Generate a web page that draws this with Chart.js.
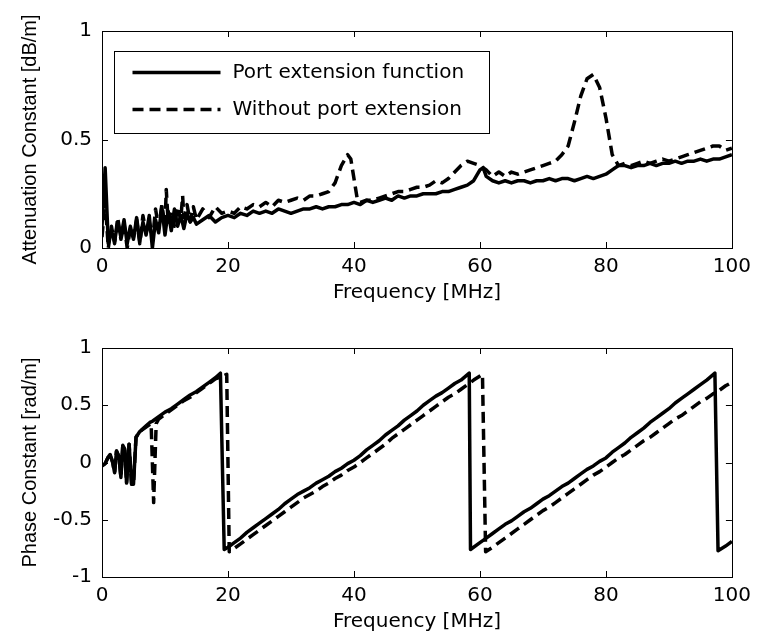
<!DOCTYPE html>
<html><head><meta charset="utf-8">
<script src="https://cdn.jsdelivr.net/npm/chart.js@4.4.1/dist/chart.umd.min.js"></script>
<style>
html,body{margin:0;padding:0;background:#fff;}
#wrap{position:relative;width:758px;height:644px;overflow:hidden;}
canvas{position:absolute;left:0;}
#c1{top:0}
#c2{top:305px}
</style></head><body>
<div id="wrap">
<canvas id="c1" width="758" height="305"></canvas>
<canvas id="c2" width="758" height="329"></canvas>
</div>
<script>
// ---------- DATA ----------
const seriesLabels = ['Port extension function', 'Without port extension'];
const xTickValues = [0, 20, 40, 60, 80, 100];

// Attenuation constant [dB/m] — solid series
const attFreqSolid = [
 0,0.5,1,1.5,2,2.5,3,3.5,4,4.5,
 5,5.5,6,6.5,7,7.5,8,8.5,9,9.5,
 10,10.5,11,11.5,12,12.5,13,13.5,14,14.5,
 15,16,17,18,19,20,21,22,23,24,
 25,26,27,28,29,30,31,32,33,34,
 35,36,37,38,39,40,41,42,43,44,
 45,46,47,48,49,50,51,52,53,54,
 55,56,57,58,59,60,60.5,61,62,63,
 64,65,66,67,68,69,70,71,72,73,
 74,75,76,77,78,79,80,81,82,83,
 84,85,86,87,88,89,90,91,92,93,
 94,95,96,97,98,99,100];
const attSolid = [
 0.10,0.37,0.02,0.08,0.03,0.12,0.05,0.13,0.02,0.10,
 0.04,0.14,0.03,0.12,0.06,0.15,0.00,0.13,0.07,0.19,
 0.06,0.17,0.08,0.18,0.10,0.15,0.09,0.16,0.12,0.14,
 0.11,0.13,0.15,0.12,0.14,0.15,0.14,0.16,0.15,0.17,
 0.16,0.17,0.16,0.18,0.17,0.16,0.17,0.18,0.18,0.19,
 0.18,0.19,0.19,0.20,0.20,0.21,0.20,0.22,0.21,0.22,
 0.23,0.22,0.24,0.23,0.24,0.24,0.25,0.25,0.25,0.26,
 0.26,0.27,0.28,0.29,0.31,0.36,0.37,0.33,0.31,0.30,
 0.31,0.30,0.31,0.31,0.30,0.31,0.31,0.32,0.31,0.32,
 0.32,0.31,0.32,0.33,0.32,0.33,0.34,0.36,0.38,0.38,
 0.37,0.38,0.38,0.39,0.38,0.39,0.39,0.40,0.39,0.40,
 0.40,0.41,0.40,0.41,0.41,0.42,0.43];

// Attenuation constant [dB/m] — dashed series
const attFreqDashed = [
 0,0.5,1,1.5,2,2.5,3,3.5,4,4.5,
 5,5.5,6,6.5,7,7.5,8,8.5,9,9.5,
 10,10.2,10.5,11,11.5,12,12.5,12.8,13,13.5,
 14,14.5,15,16,17,18,19,20,21,22,
 23,24,25,26,27,28,29,30,31,32,
 33,34,35,36,37,38,39,39.5,40,40.5,
 41,42,43,44,45,46,47,48,49,50,
 51,52,53,54,55,56,57,58,59,60,
 61,62,63,64,65,66,67,68,69,70,
 71,72,73,74,75,76,77,78,79,80,
 81,82,83,84,85,86,87,88,89,90,
 91,92,93,94,95,96,97,98,99,100];
const attDashed = [
 0.05,0.22,0.00,0.10,0.02,0.14,0.04,0.11,0.00,0.09,
 0.05,0.13,0.02,0.15,0.07,0.12,0.03,0.18,0.09,0.20,
 0.10,0.27,0.12,0.17,0.10,0.19,0.13,0.24,0.14,0.20,
 0.12,0.19,0.13,0.18,0.14,0.19,0.16,0.17,0.16,0.19,
 0.18,0.20,0.19,0.21,0.19,0.22,0.21,0.22,0.23,0.22,
 0.24,0.24,0.25,0.26,0.30,0.38,0.43,0.41,0.32,0.23,
 0.21,0.22,0.22,0.23,0.24,0.25,0.26,0.26,0.27,0.28,
 0.28,0.29,0.31,0.30,0.32,0.35,0.38,0.40,0.39,0.38,
 0.36,0.33,0.35,0.33,0.35,0.34,0.35,0.36,0.37,0.38,
 0.39,0.40,0.43,0.47,0.58,0.70,0.78,0.80,0.74,0.60,
 0.43,0.38,0.39,0.38,0.39,0.40,0.39,0.40,0.41,0.40,
 0.41,0.42,0.43,0.44,0.45,0.46,0.47,0.47,0.45,0.46];

// Phase constant [rad/m] — solid series
const phaseFreqSolid = [
 0,0.5,1,1.3,1.7,2,2.3,2.7,3,3.3,
 3.6,3.9,4.3,4.7,5,5.4,6,7,7.6,8,
 9,10,11,12,13,14,15,16,17,18,
 18.8,19.4,20,21,22,23,24,25,26,27,
 28,29,30,31,32,33,34,35,36,37,
 38,39,40,41,42,43,44,45,46,47,
 48,49,50,51,52,53,54,55,56,57,
 58.3,58.5,60,61,62,63,64,65,66,67,
 68,69,70,71,72,73,74,75,76,77,
 78,79,80,81,82,83,84,85,86,87,
 88,89,90,91,92,93,94,95,96,97.3,
 97.8,99,100];
const phaseSolid = [
 -0.03,-0.01,0.05,0.07,0.00,-0.09,0.10,0.05,-0.13,0.15,
 0.12,-0.18,0.16,-0.19,-0.19,0.22,0.27,0.32,0.35,0.36,
 0.40,0.44,0.47,0.51,0.55,0.59,0.62,0.66,0.70,0.74,
 0.78,-0.76,-0.74,-0.70,-0.66,-0.61,-0.57,-0.53,-0.49,-0.45,
 -0.41,-0.36,-0.32,-0.28,-0.25,-0.22,-0.18,-0.15,-0.12,-0.08,
 -0.05,-0.01,0.02,0.06,0.11,0.15,0.19,0.24,0.28,0.32,
 0.37,0.41,0.45,0.50,0.54,0.58,0.61,0.65,0.69,0.72,
 0.78,-0.76,-0.70,-0.66,-0.62,-0.58,-0.54,-0.51,-0.47,-0.43,
 -0.40,-0.36,-0.32,-0.29,-0.25,-0.21,-0.18,-0.14,-0.10,-0.06,
 -0.03,0.01,0.04,0.09,0.13,0.17,0.22,0.26,0.30,0.35,
 0.39,0.43,0.47,0.52,0.56,0.60,0.64,0.68,0.72,0.78,
 -0.77,-0.73,-0.69];

// Phase constant [rad/m] — dashed series
const phaseFreqDashed = [
 0,0.5,1,1.3,1.7,2,2.3,2.7,3,3.3,
 3.6,3.9,4.3,4.7,5,5.4,6,7,7.8,8.2,
 8.6,9,10,11,12,13,14,15,16,17,
 18,19,19.8,20.2,21,22,23,24,25,26,
 27,28,29,30,31,32,33,34,35,36,
 37,38,39,40,41,42,43,44,45,46,
 47,48,49,50,51,52,53,54,55,56,
 57,58,59,60.4,60.9,62,63,64,65,66,
 67,68,69,70,71,72,73,74,75,76,
 77,78,79,80,81,82,83,84,85,86,
 87,88,89,90,91,92,93,94,95,96,
 97,98,99,100];
const phaseDashed = [
 -0.03,-0.01,0.05,0.07,0.00,-0.09,0.10,0.05,-0.13,0.15,
 0.12,-0.18,0.16,-0.19,-0.19,0.22,0.27,0.31,0.34,-0.35,
 0.34,0.38,0.42,0.46,0.50,0.54,0.57,0.61,0.65,0.69,
 0.73,0.75,0.77,-0.78,-0.75,-0.71,-0.67,-0.63,-0.59,-0.55,
 -0.51,-0.47,-0.43,-0.39,-0.35,-0.31,-0.28,-0.25,-0.21,-0.18,
 -0.14,-0.11,-0.07,-0.04,0.00,0.04,0.08,0.12,0.16,0.21,
 0.25,0.29,0.33,0.37,0.41,0.45,0.49,0.53,0.57,0.60,
 0.64,0.68,0.72,0.77,-0.78,-0.74,-0.70,-0.66,-0.62,-0.58,
 -0.54,-0.50,-0.46,-0.42,-0.39,-0.35,-0.31,-0.27,-0.23,-0.19,
 -0.15,-0.11,-0.08,-0.04,0.00,0.04,0.07,0.11,0.15,0.19,
 0.22,0.26,0.30,0.34,0.38,0.41,0.45,0.49,0.53,0.56,
 0.60,0.63,0.67,0.70];

// ---------- HELPERS ----------
function zip(xs, ys){
  const n = Math.min(xs.length, ys.length);
  const out = [];
  for (let i = 0; i < n; i++) out.push({x: xs[i], y: ys[i]});
  return out;
}
const TICK_FONT = {family: '"DejaVu Sans", sans-serif', size: 20};
const YTITLE_FONT = {family: '"Liberation Sans", Arial, sans-serif', size: 20};

const boxTicks = {
  id: 'boxTicks',
  afterDatasetsDraw(chart){
    const {ctx, chartArea, scales} = chart;
    const {left, right, top, bottom} = chartArea;
    const x = scales.x, y = scales.y;
    const L = 6;
    ctx.save();
    ctx.strokeStyle = '#000';
    ctx.lineWidth = 1;
    ctx.setLineDash([]);
    ctx.beginPath();
    x.ticks.forEach(t => {
      const px = Math.round(x.getPixelForValue(t.value)) + 0.5;
      ctx.moveTo(px, bottom); ctx.lineTo(px, bottom - L);
      ctx.moveTo(px, top); ctx.lineTo(px, top + L);
    });
    y.ticks.forEach(t => {
      const py = Math.round(y.getPixelForValue(t.value)) + 0.5;
      ctx.moveTo(left, py); ctx.lineTo(left + L, py);
      ctx.moveTo(right, py); ctx.lineTo(right - L, py);
    });
    ctx.stroke();
    ctx.strokeRect(Math.round(left) + 0.5, Math.round(top) + 0.5,
                   Math.round(right - left), Math.round(bottom - top));
    ctx.restore();
  }
};

const boxLegend = {
  id: 'boxLegend',
  afterDraw(chart, args, opts){
    if (!opts || !opts.show) return;
    const ctx = chart.ctx;
    const {left, top} = chart.chartArea;
    const bx = Math.round(left + opts.dx) + 0.5, by = Math.round(top + opts.dy) + 0.5;
    ctx.save();
    ctx.fillStyle = '#fff';
    ctx.fillRect(bx, by, opts.w, opts.h);
    ctx.strokeStyle = '#000';
    ctx.lineWidth = 1;
    ctx.setLineDash([]);
    ctx.strokeRect(bx, by, opts.w, opts.h);
    ctx.font = '20px "DejaVu Sans", sans-serif';
    ctx.textBaseline = 'middle';
    ctx.textAlign = 'left';
    chart.data.datasets.forEach((ds, i) => {
      const ry = by + opts.rows[i];
      ctx.strokeStyle = ds.borderColor;
      ctx.lineWidth = ds.borderWidth;
      ctx.lineCap = 'butt';
      ctx.setLineDash(ds.borderDash || []);
      ctx.beginPath();
      ctx.moveTo(bx + opts.lineX0, ry);
      ctx.lineTo(bx + opts.lineX1, ry);
      ctx.stroke();
      ctx.fillStyle = '#000';
      ctx.fillText(ds.label, bx + opts.textX, ry);
    });
    ctx.restore();
  }
};

function makeDatasets(solid, dashed){
  return [
    {label: seriesLabels[0], data: solid, borderColor: '#000', borderWidth: 3.5,
     pointRadius: 0, tension: 0, borderJoinStyle: 'round', borderCapStyle: 'butt'},
    {label: seriesLabels[1], data: dashed, borderColor: '#000', borderWidth: 3.5,
     borderDash: [11, 6], pointRadius: 0, tension: 0, borderJoinStyle: 'round', borderCapStyle: 'butt'}
  ];
}

function fmtTick(v){ return String(Math.round(v * 100) / 100); }

function makeOptions(yMin, yMax, yTitle, padTop, legendOpts){
  return {
    responsive: false, animation: false, devicePixelRatio: 1,
    layout: {padding: {left: 18, right: 22, top: padTop, bottom: 0}},
    plugins: {legend: {display: false}, tooltip: {enabled: false}, boxLegend: legendOpts},
    scales: {
      x: {
        type: 'linear', min: 0, max: 100,
        afterBuildTicks(s){ s.ticks = xTickValues.map(v => ({value: v})); },
        ticks: {padding: 7, color: '#000', font: TICK_FONT, maxRotation: 0, autoSkip: false,
                callback: v => fmtTick(v)},
        grid: {display: false, drawTicks: false}, border: {display: false},
        title: {display: true, text: 'Frequency [MHz]', color: '#000', font: TICK_FONT, padding: 0},
        afterFit(s){ s.height = 57; }
      },
      y: {
        type: 'linear', min: yMin, max: yMax,
        ticks: {stepSize: 0.5, padding: 10, color: '#000', font: TICK_FONT,
                callback: v => fmtTick(v)},
        grid: {display: false, drawTicks: false}, border: {display: false},
        title: {display: true, text: yTitle, color: '#000', font: YTITLE_FONT, padding: 0},
        afterFit(s){ s.width = 84; }
      }
    }
  };
}

new Chart(document.getElementById('c1'), {
  type: 'line',
  data: {datasets: makeDatasets(zip(attFreqSolid, attSolid), zip(attFreqDashed, attDashed))},
  options: makeOptions(0, 1, 'Attenuation Constant [dB/m]', 31,
    {show: true, dx: 12, dy: 20, w: 375, h: 82, rows: [21, 58], lineX0: 18, lineX1: 106, textX: 118}),
  plugins: [boxTicks, boxLegend]
});

new Chart(document.getElementById('c2'), {
  type: 'line',
  data: {datasets: makeDatasets(zip(phaseFreqSolid, phaseSolid), zip(phaseFreqDashed, phaseDashed))},
  options: makeOptions(-1, 1, 'Phase Constant [rad/m]', 43, {show: false}),
  plugins: [boxTicks, boxLegend]
});
</script>
</body></html>
